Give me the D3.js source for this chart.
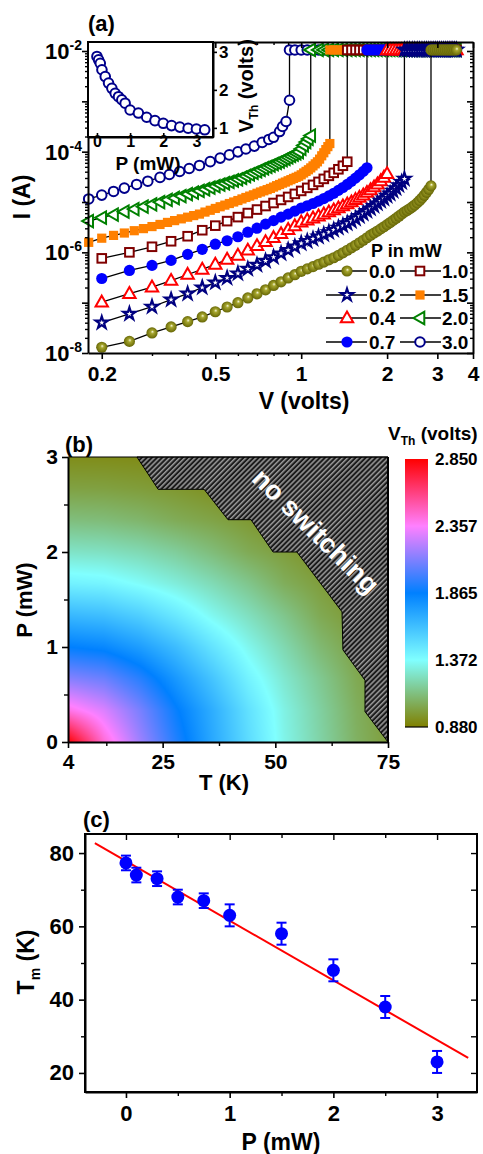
<!DOCTYPE html>
<html><head><meta charset="utf-8">
<script src="https://cdn.jsdelivr.net/npm/d3@7/dist/d3.min.js"></script>
<style>
html,body{margin:0;padding:0;background:#fff;}
svg{display:block;}
text{font-family:"Liberation Sans",Arial,Helvetica,sans-serif;font-weight:bold;fill:#000;}
</style></head><body>
<svg id="fig" width="483" height="1154"></svg>
<script>
// ================= Panel (a) data =================
const V05 = [0.20,0.25,0.30,0.35,0.40,0.45,0.50,0.55,0.60,0.65,0.70,0.75,0.80,0.85,0.90,0.95,1.00,1.05,1.10,1.15,1.20,1.25,1.30,1.35,1.40,1.45,1.50,1.55,1.60,1.65,1.70,1.75,1.80,1.85,1.90,1.95,2.00,2.05,2.10,2.15,2.20,2.25,2.30,2.35,2.40,2.45,2.50,2.55,2.60,2.65,2.70,2.75,2.80,2.85];
const V02 = [0.18,0.20,0.22,0.24,0.26,0.28,0.30,0.32,0.34,0.36,0.38,0.40,0.42,0.44,0.46,0.48,0.50,0.52,0.54,0.56,0.58,0.60,0.62,0.64,0.66,0.68,0.70,0.72,0.74,0.76,0.78,0.80,0.82,0.84,0.86,0.88,0.90,0.92,0.94,0.96,0.98,1.00,1.02,1.04,1.06,1.08,1.10,1.12,1.14,1.16,1.18,1.20,1.22,1.24,1.26];
const V_P30 = [0.18,0.20,0.22,0.24,0.265,0.29,0.32,0.345,0.375,0.405,0.44,0.48,0.52,0.56,0.60,0.64,0.685,0.73,0.77,0.80,0.84,0.86,0.885,0.91];

const I_P00 = [1.3e-8,1.7e-8,2.5e-8,3.3e-8,4.2e-8,5.2e-8,6.6e-8,8.2e-8,1.0e-7,1.24e-7,1.5e-7,1.8e-7,2.2e-7,2.6e-7,3.1e-7,3.6e-7,4.2e-7,4.7e-7,5.2e-7,5.8e-7,6.4e-7,7.1e-7,7.8e-7,8.7e-7,9.8e-7,1.1e-6,1.23e-6,1.38e-6,1.55e-6,1.74e-6,1.95e-6,2.19e-6,2.41e-6,2.65e-6,2.92e-6,3.22e-6,3.55e-6,3.91e-6,4.31e-6,4.74e-6,5.22e-6,5.75e-6,6.31e-6,6.79e-6,7.34e-6,7.98e-6,8.71e-6,9.6e-6,1.07e-5,1.2e-5,1.36e-5,1.56e-5,1.79e-5,2.09e-5];
const I_P02 = [4.0e-8,6.0e-8,8.3e-8,1.15e-7,1.51e-7,2.0e-7,2.51e-7,3.09e-7,3.8e-7,4.68e-7,5.62e-7,6.76e-7,8.0e-7,9.5e-7,1.11e-6,1.3e-6,1.51e-6,1.67e-6,1.85e-6,2.05e-6,2.27e-6,2.51e-6,2.78e-6,3.08e-6,3.4e-6,3.77e-6,4.17e-6,4.68e-6,5.25e-6,5.89e-6,6.61e-6,7.41e-6,8.32e-6,9.33e-6,1.05e-5,1.17e-5,1.32e-5,1.47e-5,1.66e-5,1.88e-5,2.15e-5,2.48e-5,2.88e-5];
const I_P04 = [1.02e-7,1.51e-7,2.04e-7,2.75e-7,3.63e-7,4.57e-7,5.75e-7,7.24e-7,8.71e-7,1.1e-6,1.35e-6,1.62e-6,1.95e-6,2.34e-6,2.82e-6,3.34e-6,3.98e-6,4.37e-6,4.79e-6,5.25e-6,5.75e-6,6.31e-6,6.92e-6,7.59e-6,8.32e-6,9.12e-6,1.0e-5,1.11e-5,1.23e-5,1.37e-5,1.54e-5,1.74e-5,1.98e-5,2.27e-5,2.63e-5,3.08e-5,3.63e-5];
const I_P07 = [3.02e-7,4.37e-7,5.5e-7,6.92e-7,9.12e-7,1.15e-6,1.45e-6,1.7e-6,2.04e-6,2.51e-6,3.02e-6,3.63e-6,4.27e-6,5.01e-6,5.75e-6,6.61e-6,7.59e-6,8.4e-6,9.33e-6,1.04e-5,1.17e-5,1.32e-5,1.49e-5,1.7e-5,1.94e-5,2.23e-5,2.57e-5,2.98e-5,3.47e-5,4.06e-5,4.79e-5];
const I_P10 = [7.59e-7,1.0e-6,1.29e-6,1.66e-6,2.09e-6,2.75e-6,3.39e-6,4.17e-6,5.01e-6,6.03e-6,7.08e-6,8.32e-6,9.55e-6,1.1e-5,1.26e-5,1.45e-5,1.66e-5,1.91e-5,2.19e-5,2.51e-5,2.88e-5,3.31e-5,3.8e-5,4.47e-5,5.25e-5,6.31e-5];
const I_P15 = [1.58e-6,1.91e-6,2.17e-6,2.42e-6,2.69e-6,2.96e-6,3.25e-6,3.58e-6,3.93e-6,4.27e-6,4.63e-6,4.99e-6,5.37e-6,5.75e-6,6.31e-6,6.85e-6,7.45e-6,8.05e-6,8.67e-6,9.33e-6,1.0e-5,1.07e-5,1.15e-5,1.23e-5,1.31e-5,1.39e-5,1.49e-5,1.58e-5,1.67e-5,1.76e-5,1.86e-5,1.98e-5,2.11e-5,2.23e-5,2.37e-5,2.49e-5,2.64e-5,2.78e-5,2.94e-5,3.09e-5,3.25e-5,3.47e-5,3.77e-5,4.06e-5,4.37e-5,4.76e-5,5.22e-5,5.73e-5,6.28e-5,7.11e-5,8.28e-5,9.51e-5,1.1e-4,1.26e-4,1.45e-4];
const I_P20 = [4.17e-6,4.88e-6,5.62e-6,6.43e-6,7.24e-6,8.09e-6,8.99e-6,9.95e-6,1.1e-5,1.2e-5,1.31e-5,1.43e-5,1.54e-5,1.66e-5,1.79e-5,1.93e-5,2.07e-5,2.21e-5,2.36e-5,2.51e-5,2.67e-5,2.82e-5,3.03e-5,3.28e-5,3.53e-5,3.8e-5,4.07e-5,4.37e-5,4.68e-5,4.99e-5,5.3e-5,5.65e-5,6.0e-5,6.34e-5,6.79e-5,7.24e-5,7.73e-5,8.24e-5,8.75e-5,9.29e-5,9.86e-5,1.14e-4,1.33e-4,1.55e-4,1.79e-4,2.09e-4];
const I_P30 = [1.15e-5,1.37e-5,1.62e-5,1.89e-5,2.23e-5,2.59e-5,3.08e-5,3.52e-5,4.04e-5,4.63e-5,5.32e-5,6.34e-5,7.45e-5,8.63e-5,9.91e-5,1.13e-4,1.29e-4,1.53e-4,1.75e-4,1.93e-4,2.51e-4,3.16e-4,3.98e-4,1.05e-3];
// voltages at which the switched (compliance-limited) state is recorded
const compV = [0.95,1.0,1.05,1.1,1.15,1.2,1.25,1.3,1.35,1.4,1.45,1.5,1.55,1.6,1.65,1.7,1.75,1.8,1.85,1.9,1.95,2.0,2.05,2.1,2.15,2.2,2.25,2.3,2.35,2.4,2.45,2.5,2.55,2.6,2.65,2.7,2.75,2.8,2.85,2.9,2.95,3.0,3.05,3.1,3.15,3.2,3.25,3.3,3.35,3.4,3.45,3.5];
const I_comp = 1.05e-2;

const legendCol1 = ["0.0","0.2","0.4","0.7"];
const legendCol2 = ["1.0","1.5","2.0","3.0"];
const xTicksA = [0.2,0.5,1,2,3,4];
const xMinorA = [0.3,0.4,0.6,0.7,0.8,0.9];
const yDecadesA = [1e-8,1e-7,1e-6,1e-5,1e-4,1e-3,1e-2];
const yLabelA = [1e-8,1e-6,1e-4,1e-2];
const yLabelExpA = ["-8","-6","-4","-2"];

// inset: threshold voltage vs power
const insetP = [0,0.05,0.1,0.15,0.25,0.35,0.45,0.55,0.65,0.75,0.85,1.0,1.25,1.5,1.75,2.0,2.25,2.5,2.75,3.0,3.25];
const insetV = [2.88,2.79,2.70,2.53,2.35,2.18,2.04,1.91,1.82,1.74,1.65,1.47,1.39,1.28,1.19,1.12,1.06,1.02,0.99,0.97,0.95];
const insetXTicks = [0,1,2,3];
const insetYTicks = [1,2,3];

// ================= Panel (b) data =================
const gridT = [4,12,20,28,36,44,52,60,68,75];
const gridP = [0,0.33,0.67,1.0,1.33,1.67,2.0,2.33,2.67,3.0];
const gridV = [
 [2.85,2.44,2.17,1.93,1.71,1.51,1.33,1.20,1.07,0.995],
 [2.41,2.29,2.10,1.88,1.69,1.49,1.32,1.19,1.06,0.99],
 [2.12,2.07,1.94,1.77,1.60,1.42,1.28,1.16,1.04,0.975],
 [1.865,1.835,1.75,1.63,1.48,1.34,1.22,1.10,1.01,0.952],
 [1.65,1.625,1.56,1.46,1.345,1.25,1.15,1.04,0.978,0.926],
 [1.425,1.41,1.36,1.30,1.23,1.15,1.055,0.996,0.936,0.91],
 [1.265,1.254,1.225,1.178,1.115,1.044,0.997,0.945,0.913,0.892],
 [1.123,1.114,1.089,1.049,1.018,0.98,0.936,0.913,0.891,0.88],
 [1.009,1.005,0.992,0.972,0.944,0.922,0.905,0.886,0.88,0.88],
 [0.93,0.928,0.924,0.916,0.906,0.893,0.88,0.88,0.88,0.88]
];
const noSwT = [19.3,24.0,34.2,39.5,44.6,49.5,54.8,64.8,65.0,69.9,69.9,75,75];
const noSwP = [3.0,2.66,2.66,2.34,2.34,2.0,2.0,1.37,0.97,0.65,0.32,0,3.0];
const cbarTicks = [0.880,1.372,1.865,2.357,2.850];
const cbarColors = ["#808000","#80ffff","#0080ff","#ff80ff","#ff0000"];
const xTicksB = [4,25,50,75], xMinorB = [12.5,37.5,62.5];
const yTicksB = [0,1,2,3], yMinorB = [0.5,1.5,2.5];

// ================= Panel (c) data =================
const P_c = [0,0.1,0.3,0.5,0.75,1.0,1.5,2.0,2.5,3.0];
const Tm_c = [77.3,74.0,73.0,68.0,67.0,63.0,58.0,48.0,38.0,23.0];
const err_c = [2,2,2,2,2,3,3,3,3,3];
const fitP = [-0.3,3.3];
const fitT = [82.7,24.1];
const xTicksC = [0,1,2,3], xMinorC = [0.5,1.5,2.5];
const yTicksC = [20,40,60,80], yMinorC = [30,50,70];

// ================= helpers =================
const fmt = d => String(d);
const svg = d3.select("#fig");
const defs = svg.append("defs");
const bg = defs.append("radialGradient").attr("id","ballGrad")
  .attr("cx","50%").attr("cy","50%").attr("r","55%").attr("fx","55%").attr("fy","38%");
bg.append("stop").attr("offset","0%").attr("stop-color","#f6f6d8");
bg.append("stop").attr("offset","28%").attr("stop-color","#a6a62e");
bg.append("stop").attr("offset","100%").attr("stop-color","#5e5e00");

function styleAx(g, fs){
  g.attr("font-family",null).attr("font-size",null);
  g.select(".domain").attr("stroke","#000").attr("stroke-width",2);
  g.selectAll(".tick line").attr("stroke","#000").attr("stroke-width",1.6);
  g.selectAll(".tick text").attr("font-size",fs).attr("fill","#000");
  return g;
}
function minor(g){ g.select(".domain").remove(); g.selectAll(".tick line").attr("stroke","#000").attr("stroke-width",1.4); g.selectAll("text").remove(); return g;}

function addMarker(g, type, color, x, y){
  switch(type){
    case "ball": g.append("circle").attr("cx",x).attr("cy",y).attr("r",5.6).attr("fill","url(#ballGrad)"); break;
    case "star": g.append("path").attr("d",d3.symbol(d3.symbolStar,46)()).attr("transform",`translate(${x},${y})`)
        .attr("fill","#fff").attr("stroke",color).attr("stroke-width",2.2); break;
    case "tri": g.append("path").attr("d","M0,-6.6L6.2,4.3L-6.2,4.3Z").attr("transform",`translate(${x},${y})`)
        .attr("fill","#fff").attr("stroke",color).attr("stroke-width",2); break;
    case "ltri": g.append("path").attr("d","M-6.6,0L4.3,-6.2L4.3,6.2Z").attr("transform",`translate(${x},${y})`)
        .attr("fill","#fff").attr("stroke",color).attr("stroke-width",2); break;
    case "disc": g.append("circle").attr("cx",x).attr("cy",y).attr("r",5.6).attr("fill",color); break;
    case "sq": g.append("rect").attr("x",x-4.3).attr("y",y-4.3).attr("width",8.6).attr("height",8.6)
        .attr("fill","#fff").attr("stroke",color).attr("stroke-width",2); break;
    case "fsq": g.append("rect").attr("x",x-4.6).attr("y",y-4.6).attr("width",9.2).attr("height",9.2).attr("fill",color); break;
    case "ring": g.append("circle").attr("cx",x).attr("cy",y).attr("r",4.8)
        .attr("fill","#fff").attr("stroke",color).attr("stroke-width",2); break;
  }
}

// ================= Panel (a) =================
const ax = d3.scaleLog().domain([0.179,4]).range([88,473]);
const ay = d3.scaleLog().domain([1e-8,0.0151]).range([353,42]);

defs.append("clipPath").attr("id","clipA").append("rect").attr("x",88).attr("y",42).attr("width",385).attr("height",311);

const series = [
  {p:"3.0", V:V_P30, I:I_P30, type:"ring", color:"#00008b"},
  {p:"2.0", V:V02, I:I_P20, type:"ltri", color:"#008000"},
  {p:"1.5", V:V02, I:I_P15, type:"fsq", color:"#ff8000"},
  {p:"1.0", V:V05, I:I_P10, type:"sq", color:"#800000"},
  {p:"0.7", V:V05, I:I_P07, type:"disc", color:"#0000ff"},
  {p:"0.4", V:V05, I:I_P04, type:"tri", color:"#ff0000"},
  {p:"0.2", V:V05, I:I_P02, type:"star", color:"#000080"},
  {p:"0.0", V:V05, I:I_P00, type:"ball", color:"#808000"}
];
const styleOf = {};
series.forEach(s => styleOf[s.p] = s);

const line = d3.line().x(d=>ax(d[0])).y(d=>ay(d[1]));
const gData = svg.append("g");
series.forEach(s => {
  const pts = s.I.map((v,i)=>[s.V[i], v]);
  const vth = pts[pts.length-1][0];
  const top = [[vth, I_comp]].concat(compV.filter(v=>v>vth+0.02).map(v=>[v,I_comp]));
  const all = pts.concat(top);
  gData.append("path").attr("d",line(all)).attr("fill","none").attr("stroke","#000").attr("stroke-width",1.3).attr("clip-path","url(#clipA)");
  const gm = gData.append("g");
  all.forEach(d => addMarker(gm, s.type, s.color, ax(d[0]), ay(d[1])));
});

// axes (a)
styleAx(svg.append("g").attr("transform","translate(0,353)")
  .call(d3.axisBottom(ax).tickValues(xTicksA).tickFormat(fmt).tickSize(6).tickSizeOuter(0).tickPadding(7)), 21);
minor(svg.append("g").attr("transform","translate(0,353)").call(d3.axisBottom(ax).tickValues(xMinorA).tickSize(3)));
styleAx(svg.append("g").attr("transform","translate(0,42)")
  .call(d3.axisTop(ax).tickValues(xTicksA).tickFormat(()=>"").tickSize(-6).tickSizeOuter(0)), 10);
minor(svg.append("g").attr("transform","translate(0,42)").call(d3.axisTop(ax).tickValues(xMinorA).tickSize(-3)));
const yMinorA = [];
yDecadesA.forEach(d => { for (let m=2;m<=9;m++){ const v=d*m; if (v<0.0151) yMinorA.push(v);} });
styleAx(svg.append("g").attr("transform","translate(88,0)")
  .call(d3.axisLeft(ay).tickValues(yDecadesA).tickFormat(()=>"").tickSize(6).tickSizeOuter(0)), 10);
minor(svg.append("g").attr("transform","translate(88,0)").call(d3.axisLeft(ay).tickValues(yMinorA).tickSize(3)));
styleAx(svg.append("g").attr("transform","translate(473,0)")
  .call(d3.axisRight(ay).tickValues(yDecadesA).tickFormat(()=>"").tickSize(-6).tickSizeOuter(0)), 10);
minor(svg.append("g").attr("transform","translate(473,0)").call(d3.axisRight(ay).tickValues(yMinorA).tickSize(-3)));

yLabelA.forEach((v,i) => {
  const t = svg.append("text").attr("x",82).attr("y",ay(v)+8).attr("text-anchor","end").attr("font-size",22);
  t.append("tspan").text("10");
  t.append("tspan").attr("dy",-9).attr("font-size",14).text(yLabelExpA[i]);
});
svg.append("text").attr("transform","translate(30,197) rotate(-90)").attr("text-anchor","middle").attr("font-size",23).text("I (A)");
svg.append("text").attr("x",304).attr("y",409).attr("text-anchor","middle").attr("font-size",23).text("V (volts)");
svg.append("text").attr("x",88).attr("y",31).attr("font-size",22).text("(a)");

// legend
svg.append("text").attr("x",371).attr("y",257).attr("font-size",18).text("P in mW");
const legY = [271,295,318,342];
[[legendCol1,326,367,347,369],[legendCol2,400,441,420,442]].forEach(col => {
  col[0].forEach((p,i) => {
    const y = legY[i];
    svg.append("line").attr("x1",col[1]).attr("x2",col[2]).attr("y1",y).attr("y2",y).attr("stroke","#000").attr("stroke-width",1.5);
    const s = styleOf[p];
    addMarker(svg, s.type, s.color, col[3], y);
    svg.append("text").attr("x",col[4]).attr("y",y+7).attr("font-size",19).text(p);
  });
});

// inset
const ix = d3.scaleLinear().domain([-0.27,3.5]).range([88,213]);
const iy = d3.scaleLinear().domain([0.76,3.26]).range([137,42]);
svg.append("rect").attr("x",88).attr("y",42).attr("width",125).attr("height",95).attr("fill","#fff").attr("stroke","#000").attr("stroke-width",2);
styleAx(svg.append("g").attr("transform","translate(0,137)")
  .call(d3.axisBottom(ix).tickValues(insetXTicks).tickFormat(fmt).tickSize(-4).tickSizeOuter(0).tickPadding(-1)), 16);
styleAx(svg.append("g").attr("transform","translate(213,0)")
  .call(d3.axisRight(iy).tickValues(insetYTicks).tickFormat(fmt).tickSize(4).tickSizeOuter(0).tickPadding(2)), 17);
const gi = svg.append("g");
insetP.forEach((p,i) => addMarker(gi, "ring", "#00008b", ix(p), iy(insetV[i])));
svg.append("text").attr("x",148).attr("y",170).attr("text-anchor","middle").attr("font-size",19).text("P (mW)");
const vt = svg.append("text").attr("transform","translate(253,86) rotate(-90)").attr("text-anchor","middle").attr("font-size",20);
vt.append("tspan").text("V");
vt.append("tspan").attr("font-size",12).attr("dy",5).text("Th");
vt.append("tspan").attr("dy",-5).text(" (volts)");

// ================= Panel (b) =================
const bx = d3.scaleLinear().domain([4,75]).range([68,388]);
const by = d3.scaleLinear().domain([0,3]).range([742,457]);
const cscale = d3.scaleLinear().domain(cbarTicks).range(cbarColors);

function vAt(T,P){
  let i = Math.max(0, Math.min(gridT.length-2, d3.bisectRight(gridT,T)-1));
  let j = Math.max(0, Math.min(gridP.length-2, d3.bisectRight(gridP,P)-1));
  const tt = Math.max(0,Math.min(1,(T-gridT[i])/(gridT[i+1]-gridT[i])));
  const pp = Math.max(0,Math.min(1,(P-gridP[j])/(gridP[j+1]-gridP[j])));
  const a = gridV[j][i], b = gridV[j][i+1], c = gridV[j+1][i], d = gridV[j+1][i+1];
  return (a*(1-tt)+b*tt)*(1-pp) + (c*(1-tt)+d*tt)*pp;
}
const cw = 320, ch = 285;
const cv = document.createElement("canvas"); cv.width = cw; cv.height = ch;
const ctx = cv.getContext("2d");
const img = ctx.createImageData(cw,ch);
for (let py=0; py<ch; py++){
  const P = by.invert(457+py+0.5);
  for (let px=0; px<cw; px++){
    const T = bx.invert(68+px+0.5);
    const col = d3.rgb(cscale(vAt(T,P)));
    const k = (py*cw+px)*4;
    img.data[k]=col.r; img.data[k+1]=col.g; img.data[k+2]=col.b; img.data[k+3]=255;
  }
}
ctx.putImageData(img,0,0);
svg.append("image").attr("x",68).attr("y",457).attr("width",cw).attr("height",ch).attr("href",cv.toDataURL());

// hatched "no switching" region
const pat = defs.append("pattern").attr("id","hatch").attr("patternUnits","userSpaceOnUse")
  .attr("width",3.6).attr("height",10).attr("patternTransform","rotate(45)");
pat.append("rect").attr("width",3.6).attr("height",10).attr("fill","#1c1c1c");
pat.append("rect").attr("width",1.5).attr("height",10).attr("fill","#9a9a9a");
const noSw = noSwT.map((t,i)=>[t,noSwP[i]]);
svg.append("path").attr("d", d3.line().x(d=>bx(d[0])).y(d=>by(d[1]))(noSw)+"Z")
  .attr("fill","url(#hatch)").attr("stroke","#000").attr("stroke-width",1);
svg.append("text").attr("transform","translate(316,531) rotate(44.5)").attr("text-anchor","middle")
  .attr("font-size",27).style("fill","#fff").attr("dy","0.35em").text("no switching");

// border top/right
svg.append("line").attr("x1",68).attr("x2",388).attr("y1",457).attr("y2",457).attr("stroke","#000").attr("stroke-width",1.2);
svg.append("line").attr("x1",388).attr("x2",388).attr("y1",457).attr("y2",742).attr("stroke","#000").attr("stroke-width",2);

styleAx(svg.append("g").attr("transform","translate(0,742)")
  .call(d3.axisBottom(bx).tickValues(xTicksB).tickFormat(fmt).tickSize(6).tickSizeOuter(0).tickPadding(6)), 21);
minor(svg.append("g").attr("transform","translate(0,742)").call(d3.axisBottom(bx).tickValues(xMinorB).tickSize(4)));
styleAx(svg.append("g").attr("transform","translate(68,0)")
  .call(d3.axisLeft(by).tickValues(yTicksB).tickFormat(fmt).tickSize(6).tickSizeOuter(0).tickPadding(4)), 21);
minor(svg.append("g").attr("transform","translate(68,0)").call(d3.axisLeft(by).tickValues(yMinorB).tickSize(4)));
svg.append("text").attr("x",224).attr("y",790).attr("text-anchor","middle").attr("font-size",22).text("T (K)");
svg.append("text").attr("transform","translate(32,600) rotate(-90)").attr("text-anchor","middle").attr("font-size",22).text("P (mW)");
svg.append("text").attr("x",65).attr("y",452).attr("font-size",22).text("(b)");

// colorbar
const cby = d3.scaleLinear().domain([0.88,2.85]).range([727,459]);
const lg = defs.append("linearGradient").attr("id","cbar").attr("x1",0).attr("y1",1).attr("x2",0).attr("y2",0);
cbarTicks.forEach((v,i)=> lg.append("stop").attr("offset",(cby(0.88)-cby(v))/(cby(0.88)-cby(2.85))).attr("stop-color",cbarColors[i]));
svg.append("rect").attr("x",405).attr("y",459).attr("width",23).attr("height",268).attr("fill","url(#cbar)");
svg.append("line").attr("x1",405).attr("x2",428).attr("y1",727).attr("y2",727).attr("stroke","#000").attr("stroke-width",1.2);
cbarTicks.forEach(v => svg.append("text").attr("x",435).attr("y",cby(v)+6).attr("font-size",17).text(d3.format(".3f")(v)));
const ct = svg.append("text").attr("x",388).attr("y",440).attr("font-size",19);
ct.append("tspan").text("V");
ct.append("tspan").attr("font-size",12).attr("dy",5).text("Th");
ct.append("tspan").attr("dy",-5).text(" (volts)");

// ================= Panel (c) =================
const cxs = d3.scaleLinear().domain([-0.395,3.385]).range([85,477]);
const cys = d3.scaleLinear().domain([14.8,85.2]).range([1092,834]);
svg.append("rect").attr("x",85).attr("y",834).attr("width",392).attr("height",258).attr("fill","none").attr("stroke","#000").attr("stroke-width",2);
styleAx(svg.append("g").attr("transform","translate(0,1092)")
  .call(d3.axisBottom(cxs).tickValues(xTicksC).tickFormat(fmt).tickSize(6).tickSizeOuter(0).tickPadding(7)), 22);
minor(svg.append("g").attr("transform","translate(0,1092)").call(d3.axisBottom(cxs).tickValues(xMinorC).tickSize(4)));
minor(svg.append("g").attr("transform","translate(0,834)").call(d3.axisTop(cxs).tickValues(xTicksC).tickSize(-6)));
minor(svg.append("g").attr("transform","translate(0,834)").call(d3.axisTop(cxs).tickValues(xMinorC).tickSize(-4)));
styleAx(svg.append("g").attr("transform","translate(85,0)")
  .call(d3.axisLeft(cys).tickValues(yTicksC).tickFormat(fmt).tickSize(6).tickSizeOuter(0).tickPadding(5)), 22);
minor(svg.append("g").attr("transform","translate(85,0)").call(d3.axisLeft(cys).tickValues(yMinorC).tickSize(4)));
minor(svg.append("g").attr("transform","translate(477,0)").call(d3.axisRight(cys).tickValues(yTicksC.concat(yMinorC)).tickSize(-6)));

svg.append("path").attr("d", d3.line().x(d=>cxs(d[0])).y(d=>cys(d[1]))(fitP.map((p,i)=>[p,fitT[i]])))
  .attr("stroke","#ff0000").attr("stroke-width",2).attr("fill","none");
const gc = svg.append("g");
P_c.forEach((p,i) => {
  const x = cxs(p), y1 = cys(Tm_c[i]-err_c[i]), y2 = cys(Tm_c[i]+err_c[i]);
  gc.append("line").attr("x1",x).attr("x2",x).attr("y1",y1).attr("y2",y2).attr("stroke","#0000ff").attr("stroke-width",2);
  gc.append("line").attr("x1",x-5).attr("x2",x+5).attr("y1",y1).attr("y2",y1).attr("stroke","#0000ff").attr("stroke-width",2);
  gc.append("line").attr("x1",x-5).attr("x2",x+5).attr("y1",y2).attr("y2",y2).attr("stroke","#0000ff").attr("stroke-width",2);
  gc.append("circle").attr("cx",x).attr("cy",cys(Tm_c[i])).attr("r",6.5).attr("fill","#0000ff");
});
const tl = svg.append("text").attr("transform","translate(34,962) rotate(-90)").attr("text-anchor","middle").attr("font-size",23);
tl.append("tspan").text("T");
tl.append("tspan").attr("font-size",14).attr("dy",6).text("m");
tl.append("tspan").attr("dy",-6).text(" (K)");
svg.append("text").attr("x",281).attr("y",1150).attr("text-anchor","middle").attr("font-size",23).text("P (mW)");
svg.append("text").attr("x",83).attr("y",827).attr("font-size",22).text("(c)");
</script>
</body></html>
